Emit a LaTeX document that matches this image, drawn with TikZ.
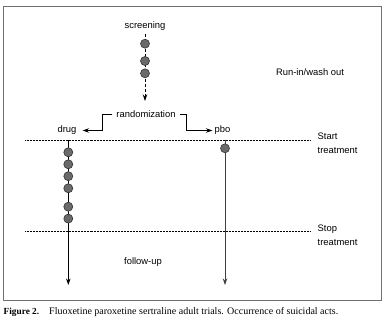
\documentclass[tikz,border=0pt]{standalone}
\usepackage{fontspec}
\setmainfont{Liberation Sans}
\newfontfamily\capfont{Liberation Serif}
\usepackage{xcolor}
\usepackage{tikz}
\usetikzlibrary{arrows.meta, positioning, calc}

\definecolor{eventgray}{HTML}{6A6A6A}
\definecolor{framegray}{HTML}{707070}

\begin{document}
\begin{tikzpicture}[
    x=1pt, y=-1pt,
    phase/.style={font=\fontsize{9.4}{14}\selectfont, inner sep=0pt},
    event/.style={circle, draw=black!80, fill=eventgray, line width=0.6pt, minimum size=9pt, inner sep=0pt},
    arrow/.style={line width=0.8pt, ->, >={Stealth[length=6.5pt, width=4.5pt]}, draw=black},
    marker/.style={line width=0.7pt, dash pattern=on 0.7pt off 0.8pt, draw=black}
]
    \useasboundingbox (0,0) rectangle (386,326);
    \draw[framegray, line width=0.8pt] (3.5,6) rectangle (381,300.5);

    % Nodes
    \node (screening) [phase] at (145,26) {screening};
    \node (random) [phase] at (146,114) {randomization};
    \node (drug) [phase] at (67,130.5) {drug};
    \node (pbo) [phase] at (222.5,130.5) {pbo};
    \node (runin) [phase] at (310,72) {Run-in/wash out};
    \node (followup) [phase] at (143,262) {follow-up};
    \node (start) [phase, anchor=base west, align=left] at (317.5,153.5) {Start\\treatment};
    \node (stop) [phase, anchor=base west, align=left] at (317.5,245.5) {Stop\\treatment};

    \coordinate (startL) at (25,140);
    \coordinate (stopL) at (25,231.5);
    \coordinate (drugtop) at (68.3,140);
    \coordinate (drugend) at (68.3,285);
    \coordinate (pbotop) at (225,140);
    \coordinate (pboend) at (225,285);

    % Treatment lines
    \draw [marker] (startL) -- ($(startL -| start.west)+(-7,0)$);
    \draw [marker] (stopL) -- ($(stopL -| stop.west)+(-7,0)$);

    % Flows
    \draw [arrow, dash pattern=on 3pt off 2pt] ([yshift=-3pt]screening.south) -- (145,101);
    \draw [arrow] ([xshift=-4pt]random.west) -- ++(-10,0) |- ([xshift=6pt]drug.east);
    \draw [arrow] ([xshift=4pt]random.east) -- ++(7,0) |- ([xshift=-2pt]pbo.west);
    \draw [arrow] (drugtop) -- (drugend);
    \draw [arrow, draw=black!75, fill=black!75] (pbotop) -- (pboend);

    % Events
    \foreach \y in {43.7, 61, 73.3}
        \node [event] at (145,\y) {};
    \foreach \y in {152.3, 164.3, 176.2, 188.3, 206.7, 218.6}
        \node [event] at (68.3,\y) {};
    \node [event] at (225,148.3) {};

    % Caption
    \node (fig) [anchor=base west, inner sep=0pt, font=\capfont\fontsize{9.3}{11}\selectfont\bfseries] at (3.5,314.5) {Figure 2.};
    \node (cap) [anchor=base west, inner sep=0pt, font=\capfont\fontsize{10}{11}\selectfont] at (49,314.5) {Fluoxetine paroxetine sertraline adult trials. Occurrence of suicidal acts.};
\end{tikzpicture}
\end{document}
